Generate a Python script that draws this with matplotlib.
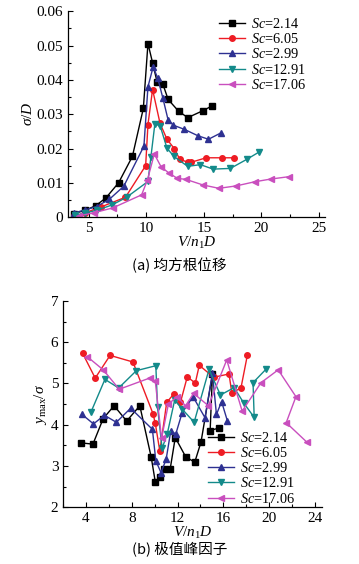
import matplotlib
matplotlib.use("Agg")
import matplotlib.pyplot as plt
from matplotlib.ticker import MultipleLocator

plt.rcParams['font.family'] = ['Liberation Serif', 'Noto Sans CJK SC']
plt.rcParams['mathtext.fontset'] = 'custom'
plt.rcParams['mathtext.rm'] = 'Liberation Serif'
plt.rcParams['mathtext.it'] = 'Liberation Serif:italic'

labels = ['2.14', '6.05', '2.99', '12.91', '17.06']
colors = ['#000000', '#ee1c24', '#2e3192', '#138a8a', '#c94fbe']
markers = ['s', 'o', '^', 'v', '<']

# (a) rms displacement sigma/D
a_x_214 = [3.7, 4.7, 5.6, 6.5, 7.6, 8.8, 9.75, 10.15, 10.55, 10.95, 11.45, 11.9, 12.8, 13.6, 14.9, 15.7]
a_y_214 = [0.001, 0.002, 0.0033, 0.0056, 0.010, 0.0177, 0.0317, 0.0506, 0.045, 0.0393, 0.0387,
           0.0343, 0.0309, 0.029, 0.031, 0.0324]
a_x_605 = [3.7, 4.65, 6.1, 8.2, 9.95, 10.15, 10.55, 11.2, 11.8, 12.45, 12.9, 13.6, 13.9, 15.2, 16.6, 17.6]
a_y_605 = [0.0002, 0.0012, 0.003, 0.0058, 0.015, 0.027, 0.0372, 0.0273, 0.0227, 0.0199, 0.0169,
           0.016, 0.016, 0.0173, 0.0173, 0.0173]
a_x_299 = [3.7, 4.7, 5.7, 6.8, 8.05, 9.8, 10.15, 10.6, 11.0, 11.45, 11.9, 12.35, 13.3, 14.5, 15.4, 16.45]
a_y_299 = [0.0012, 0.0021, 0.0031, 0.0052, 0.009, 0.0207, 0.038, 0.0438, 0.0405, 0.0346, 0.0283,
           0.0268, 0.0256, 0.0237, 0.0227, 0.0245]
a_x_1291 = [3.8, 4.7, 5.7, 7.0, 8.3, 10.15, 10.4, 10.75, 11.2, 11.8, 12.4, 13.6, 14.7, 15.8, 17.3, 18.7, 19.8]
a_y_1291 = [0.0005, 0.0012, 0.002, 0.0035, 0.0058, 0.0104, 0.0174, 0.0272, 0.0267, 0.0201, 0.0177,
            0.0148, 0.0153, 0.014, 0.0142, 0.0168, 0.019]
a_x_1706 = [4.2, 5.5, 7.1, 9.6, 10.1, 10.7, 11.3, 12.0, 12.7, 13.45, 14.9, 16.3, 17.8, 19.4, 20.8, 22.4]
a_y_1706 = [0.0004, 0.0013, 0.0027, 0.0065, 0.0108, 0.0184, 0.0146, 0.0128, 0.0113, 0.011, 0.0094,
            0.0084, 0.0091, 0.0103, 0.0111, 0.0118]

# (b) peak factor y_max/sigma
b_x_214 = [3.6, 4.6, 5.5, 6.45, 7.55, 8.7, 9.7, 10.05, 10.5, 10.85, 11.35, 11.8, 12.7, 13.5, 14.05,
           15.05, 14.85, 15.6]
b_y_214 = [3.56, 3.53, 4.15, 4.46, 4.09, 4.46, 3.21, 2.62, 2.73, 2.92, 2.92, 3.69, 3.23, 3.09, 3.58,
           5.22, 3.86, 3.92]
b_x_605 = [3.7, 4.8, 6.1, 8.1, 9.85, 10.05, 10.45, 11.05, 11.65, 12.25, 12.85, 13.55, 13.9, 15.15,
           16.5, 16.75, 17.55, 18.1]
b_y_605 = [5.73, 5.13, 5.68, 5.52, 4.27, 4.04, 3.36, 4.54, 4.74, 4.54, 5.16, 5.01, 5.44, 5.15, 5.23,
           4.76, 4.9, 5.68]
b_x_299 = [3.65, 4.65, 5.6, 6.65, 7.9, 9.8, 10.1, 10.55, 11.0, 11.4, 11.85, 12.4, 13.35, 14.4, 15.05,
           15.4, 15.85, 16.35]
b_y_299 = [4.25, 4.02, 4.23, 4.06, 4.4, 3.89, 3.13, 2.84, 3.16, 3.84, 3.78, 4.29, 4.68, 4.17, 5.25,
           4.25, 4.56, 4.1]
b_x_1291 = [4.45, 5.65, 6.85, 8.4, 10.1, 10.25, 10.65, 11.1, 11.75, 12.4, 13.45, 14.75, 15.75, 16.95,
            17.8, 18.7, 18.6, 19.75]
b_y_1291 = [4.32, 5.1, 4.89, 5.31, 5.43, 4.42, 3.43, 3.78, 4.6, 4.38, 4.06, 5.34, 4.72, 4.9, 4.52,
            4.18, 5.02, 5.35]
b_x_1706 = [4.1, 5.5, 6.9, 9.55, 10.05, 10.6, 11.2, 11.95, 12.7, 13.4, 14.7, 16.3, 17.65, 19.3, 20.8,
            22.35, 21.5, 23.3]
b_y_1706 = [5.65, 5.33, 4.86, 5.13, 5.06, 3.67, 4.5, 4.68, 4.46, 4.76, 4.46, 5.57, 4.33, 5.02, 5.33,
            4.68, 4.05, 3.58]

a_series = [(a_x_214, a_y_214), (a_x_605, a_y_605), (a_x_299, a_y_299),
            (a_x_1291, a_y_1291), (a_x_1706, a_y_1706)]
b_series = [(b_x_214, b_y_214), (b_x_605, b_y_605), (b_x_299, b_y_299),
            (b_x_1291, b_y_1291), (b_x_1706, b_y_1706)]

fig = plt.figure(figsize=(3.59, 5.64), dpi=100)
ax1 = fig.add_axes([0.189, 0.615, 0.716, 0.365])
ax2 = fig.add_axes([0.176, 0.1005, 0.72, 0.366])


def style(ax):
    for s in ['top', 'right']:
        ax.spines[s].set_visible(False)
    for s in ['left', 'bottom']:
        ax.spines[s].set_linewidth(0.9)
    ax.tick_params(which='both', direction='in', labelsize=11, width=0.8)
    ax.tick_params(which='major', length=3.5)
    ax.tick_params(which='minor', length=2)


for (x, y), lab, c, m in zip(a_series, labels, colors, markers):
    ax1.plot(x, y, color=c, marker=m, markersize=4, linewidth=1, label='$Sc$=' + lab)
ax1.set_xlim(3.2, 25.5)
ax1.set_ylim(0, 0.06)
ax1.set_xticks([5, 10, 15, 20, 25])
ax1.xaxis.set_minor_locator(MultipleLocator(2.5))
ax1.set_yticks([0, 0.01, 0.02, 0.03, 0.04, 0.05, 0.06])
ax1.set_yticklabels(['0', '0.01', '0.02', '0.03', '0.04', '0.05', '0.06'])
ax1.yaxis.set_minor_locator(MultipleLocator(0.005))
style(ax1)
ax1.set_xlabel('$V/n_1D$', fontsize=11, labelpad=0)
ax1.set_ylabel(r'$\sigma/D$', fontsize=11, labelpad=1)
ax1.legend(loc='upper right', bbox_to_anchor=(0.965, 1.02), frameon=False, fontsize=10.3,
           handlelength=1.8, handletextpad=0.4, labelspacing=0.08, borderpad=0.2)

for (x, y), lab, c, m in zip(b_series, labels, colors, markers):
    ax2.plot(x, y, color=c, marker=m, markersize=4, linewidth=1, label='$Sc$=' + lab)
ax2.set_xlim(2, 24.6)
ax2.set_ylim(2, 7)
ax2.set_xticks([4, 8, 12, 16, 20, 24])
ax2.xaxis.set_minor_locator(MultipleLocator(2))
ax2.set_yticks([2, 3, 4, 5, 6, 7])
ax2.yaxis.set_minor_locator(MultipleLocator(0.5))
style(ax2)
ax2.set_xlabel('$V/n_1D$', fontsize=11, labelpad=0)
ax2.set_ylabel(r'$y_{\rm max}/\sigma$', fontsize=11, labelpad=1)
ax2.legend(loc='lower right', bbox_to_anchor=(0.935, -0.04), frameon=False, fontsize=10.3,
           handlelength=1.8, handletextpad=0.4, labelspacing=0.08, borderpad=0.2)

fig.text(0.5, 1 - 265 / 564, '(a) 均方根位移', ha='center', va='center', fontsize=10.5,
         family=['Noto Sans CJK SC', 'DejaVu Sans'])
fig.text(0.5, 1 - 549 / 564, '(b) 极值峰因子', ha='center', va='center', fontsize=10.5,
         family=['Noto Sans CJK SC', 'DejaVu Sans'])

fig.savefig('out.png', dpi=100)
